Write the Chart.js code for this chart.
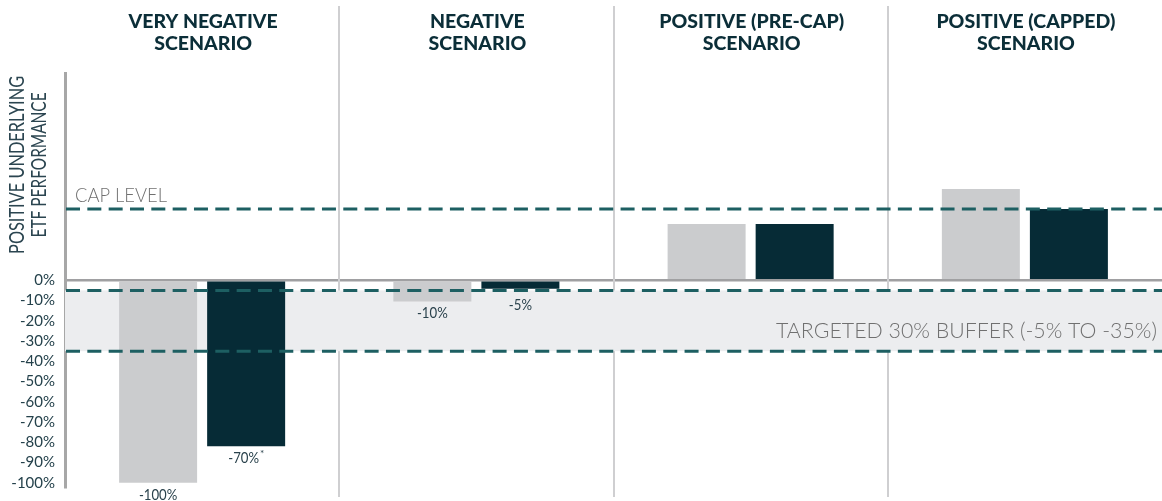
<!DOCTYPE html>
<html>
<head>
<meta charset="utf-8">
<script src="https://cdn.jsdelivr.net/npm/chart.js@4.4.1/dist/chart.umd.min.js"></script>
<style>
  body { margin: 0; background: #fff; }
  #wrap { width: 1162px; height: 501px; position: relative; }
</style>
</head>
<body>
<div id="wrap"><canvas id="scenarioChart"></canvas></div>
<script>
const categories = [
  ['VERY NEGATIVE', 'SCENARIO'],
  ['NEGATIVE', 'SCENARIO'],
  ['POSITIVE (PRE-CAP)', 'SCENARIO'],
  ['POSITIVE (CAPPED)', 'SCENARIO']
];
const etfValues = [-100, -10.5, 27.8, 45.1];
const fundValues = [-82, -4.2, 27.8, 35.2];
const etfLabels = ['-100%', '-10%', '', ''];
const fundLabels = ['-70%*', '-5%', '', ''];
const yTicks = [0, -10, -20, -30, -40, -50, -60, -70, -80, -90, -100];
const capLevel = 35.2;
const bufferTop = -5;
const bufferBottom = -35;
const yTitle = ['POSITIVE UNDERLYING', 'ETF PERFORMANCE'];
const capText = 'CAP LEVEL';
const bufferText = 'TARGETED 30% BUFFER (-5% TO -35%)';

const dashColor = '#1D5F62';
const labelColor = '#2A424C';

const overlays = {
  id: 'overlays',
  beforeDatasetsDraw(chart) {
    const { ctx, chartArea: a, scales: { x, y } } = chart;
    ctx.save();
    // scenario headers
    ctx.fillStyle = '#0B2E38';
    ctx.font = '900 19.5px Lato';
    ctx.textAlign = 'center';
    ctx.textBaseline = 'middle';
    categories.forEach((lines, i) => {
      const cx = x.getPixelForValue(i) + 1;
      lines.forEach((t, j) => ctx.fillText(t, cx, 22 + j * 21.5));
    });
    // scenario separators
    ctx.strokeStyle = '#CFCFD1';
    ctx.lineWidth = 2;
    for (let i = 0; i < categories.length - 1; i++) {
      const px = Math.round((x.getPixelForValue(i) + x.getPixelForValue(i + 1)) / 2);
      ctx.beginPath();
      ctx.moveTo(px, 6);
      ctx.lineTo(px, 497);
      ctx.stroke();
    }
    // buffer band
    const bTop = y.getPixelForValue(bufferTop);
    const bBot = y.getPixelForValue(bufferBottom);
    ctx.fillStyle = '#ECEDEF';
    ctx.fillRect(a.left, bTop, a.right - a.left, bBot - bTop);
    ctx.restore();
  },
  afterDatasetsDraw(chart) {
    const { ctx, chartArea: a, scales: { y } } = chart;
    ctx.save();
    // dashed reference lines
    ctx.strokeStyle = dashColor;
    ctx.lineWidth = 3;
    ctx.setLineDash([14, 7.33]);
    [capLevel, bufferTop, bufferBottom].forEach(v => {
      const py = y.getPixelForValue(v);
      ctx.beginPath();
      ctx.moveTo(a.left + 1, py);
      ctx.lineTo(a.right, py);
      ctx.stroke();
    });
    ctx.setLineDash([]);

    // cap level + buffer text
    ctx.fillStyle = '#707070';
    ctx.textBaseline = 'middle';
    ctx.font = '300 19px Lato';
    ctx.textAlign = 'left';
    ctx.fillText(capText, a.left + 10, y.getPixelForValue(capLevel) - 13, 92);
    ctx.font = '300 21.5px Lato';
    ctx.textAlign = 'right';
    ctx.fillText(bufferText, a.right - 5, y.getPixelForValue(-25.3), 381);

    // bar labels
    const zeroPx = y.getPixelForValue(0);
    [etfLabels, fundLabels].forEach((labels, di) => {
      const meta = chart.getDatasetMeta(di);
      meta.data.forEach((bar, i) => {
        const txt = labels[i];
        if (!txt) return;
        const main = txt.replace('*', '');
        const star = txt.includes('*');
        const ly = Math.max(bar.y + 12, zeroPx + 25);
        ctx.font = '15px Lato';
        const w = ctx.measureText(main).width * 0.88;
        const sw = star ? 5 : 0;
        const left = bar.x - (w + sw) / 2;
        ctx.save();
        ctx.translate(left, ly);
        ctx.scale(0.88, 1);
        ctx.fillStyle = labelColor;
        ctx.textAlign = 'left';
        ctx.textBaseline = 'middle';
        ctx.fillText(main, 0, 0);
        ctx.restore();
        if (star) {
          ctx.font = '10px Lato';
          ctx.fillStyle = labelColor;
          ctx.textAlign = 'left';
          ctx.fillText('*', left + w + 1, ly - 5);
        }
      });
    });

    // y axis title, rotated
    ctx.fillStyle = '#2B4550';
    ctx.font = '21px Lato';
    ctx.textAlign = 'center';
    ctx.textBaseline = 'middle';
    const ty = y.getPixelForValue(57);
    ctx.translate(0, ty);
    ctx.rotate(-Math.PI / 2);
    ctx.fillText(yTitle[0], 0, 17.5, 178);
    ctx.fillText(yTitle[1], 0, 39.5, 145);
    ctx.restore();
  }
};

new Chart(document.getElementById('scenarioChart'), {
  type: 'bar',
  data: {
    labels: categories,
    datasets: [
      {
        label: 'Underlying ETF',
        data: etfValues,
        backgroundColor: '#CBCCCE',
        borderWidth: 0,
        barPercentage: 0.886,
        categoryPercentage: 0.642
      },
      {
        label: 'Fund',
        data: fundValues,
        backgroundColor: '#062B36',
        borderWidth: 0,
        barPercentage: 0.886,
        categoryPercentage: 0.642
      }
    ]
  },
  options: {
    responsive: true,
    maintainAspectRatio: false,
    animation: false,
    layout: { padding: { top: 0, bottom: 14, left: 0, right: 0 } },
    plugins: {
      legend: { display: false },
      tooltip: { enabled: false }
    },
    scales: {
      x: {
        position: 'top',
        grid: { display: false },
        border: { display: false },
        ticks: { display: false },
        afterFit: scale => {
          scale.height = 73;
          scale.paddingLeft = 0;
          scale.paddingRight = 0;
        }
      },
      y: {
        min: -102.1,
        max: 102.4,
        z: 1,
        border: { display: true, color: '#A7A7A7', width: 3 },
        grid: {
          drawTicks: false,
          lineWidth: 2.5,
          color: c => (c.tick && c.tick.value === 0 ? '#A0A0A2' : 'rgba(0,0,0,0)')
        },
        afterBuildTicks: scale => {
          scale.ticks = yTicks.map(v => ({ value: v }));
        },
        ticks: {
          color: '#24414B',
          font: { family: 'Lato', size: 15 },
          padding: 10,
          callback: v => v + '%'
        },
        afterFit: scale => {
          scale.width = 65;
          scale.paddingTop = 0;
          scale.paddingBottom = 0;
        }
      }
    }
  },
  plugins: [overlays]
});
</script>
</body>
</html>
